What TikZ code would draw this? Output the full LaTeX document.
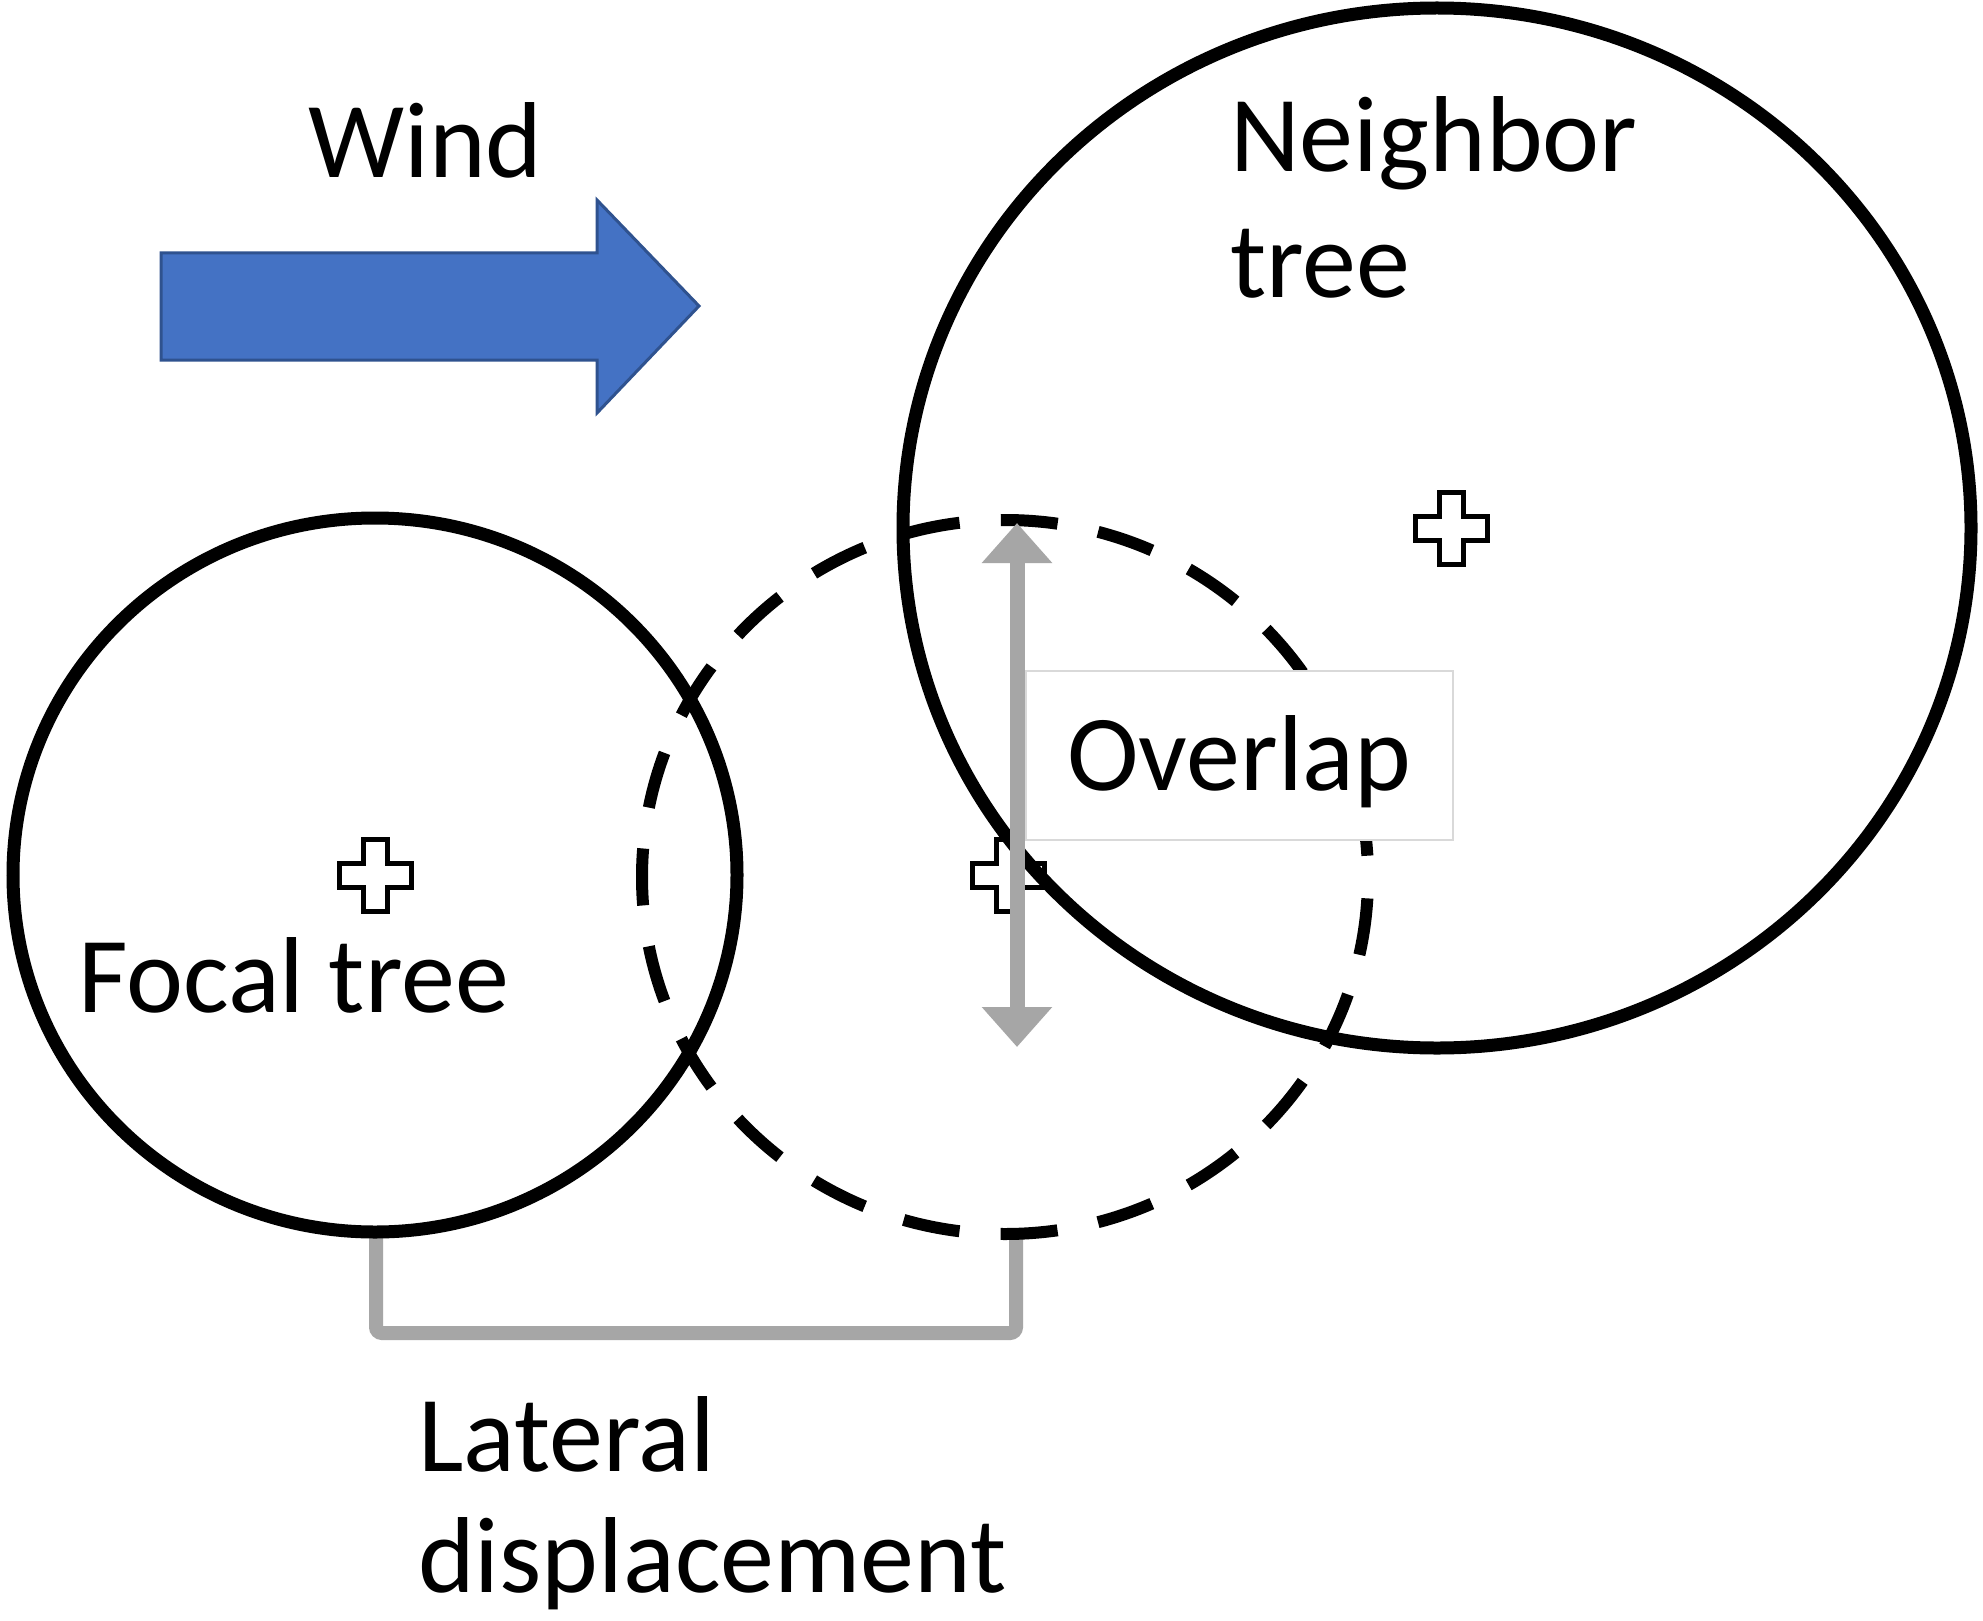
\documentclass[tikz,border=0pt]{standalone}
\usepackage{fontspec}
\setmainfont{Carlito}
\usetikzlibrary{arrows.meta}
\definecolor{windblue}{HTML}{4472C4}
\definecolor{windedge}{HTML}{2F528F}
\definecolor{dimgray}{HTML}{A6A6A6}
\definecolor{boxedge}{HTML}{D9D9D9}
\tikzset{
  crown/.style={draw=black,line width=13pt},
  shifted/.style={draw=black,line width=12pt,dash pattern=on 57pt off 41.3pt,dash phase=77pt},
  lbl/.style={anchor=base west,inner sep=0pt,font=\fontsize{108}{130}\selectfont},
  dimline/.style={draw=dimgray,line width=14pt},
  plus/.pic={\draw[line width=5pt,fill=white] (-12,-36) -- (12,-36) -- (12,-12) -- (36,-12) -- (36,12) -- (12,12) -- (12,36) -- (-12,36) -- (-12,12) -- (-36,12) -- (-36,-12) -- (-12,-12) -- cycle;}
}
\begin{document}
\begin{tikzpicture}[x=1pt,y=-1pt]
\useasboundingbox[fill=white] (0,0) rectangle (1983,1621);

% centres
\coordinate (focal) at (375,875);
\coordinate (moved) at (1005,877);
\coordinate (neigh) at (1437,528);

% lateral displacement bracket
\coordinate (brl) at (376,1233);
\coordinate (brr) at (1016,1237);
\draw[dimline,rounded corners=6pt] (brl) -- (brl |- 0,1333) -- (brr |- 0,1333) -- (brr);

% crosses under the circles
\pic at (focal) {plus};
\pic at (1008,875) {plus};
\pic at (1451,528) {plus};

% circles
\draw[crown] (focal) ellipse [x radius=362pt, y radius=357pt];
\draw[shifted] (moved) ellipse [x radius=363pt, y radius=357pt];
\draw[crown] (neigh) ellipse [x radius=534pt, y radius=520pt];

% overlap box
\node[draw=boxedge,fill=white,line width=1.5pt,anchor=north west,inner sep=0pt,
      minimum width=427pt,minimum height=169pt] (ovbox) at (1025,670) {};
\node[lbl] (ovtxt) at (1067,790) {Overlap};

% overlap arrow
\coordinate (ovtop) at (1017,523);
\coordinate (ovbot) at (1017,1047);
\draw[draw=dimgray,line width=15pt,{Triangle[width=68pt,length=40pt]}-{Triangle[width=68pt,length=40pt]}] (ovtop) -- (ovbot);

% wind arrow
\draw[fill=windblue,draw=windedge,line width=3pt,line join=miter]
  (161,253) -- (597,253) -- (597,200) -- (699,306) -- (597,413) -- (597,360) -- (161,360) -- cycle;

% labels
\node[lbl] (wind) at (308,178) {Wind};
\node[lbl] (nb1) at (1230,172) {Neighbor};
\node[lbl] (nb2) at (1230,298) {tree};
\node[lbl] (foc) at (78,1012) {Focal tree};
\node[lbl] (lat1) at (418,1471) {Lateral};
\node[lbl] (lat2) at (418,1592) {displacement};
\end{tikzpicture}
\end{document}
